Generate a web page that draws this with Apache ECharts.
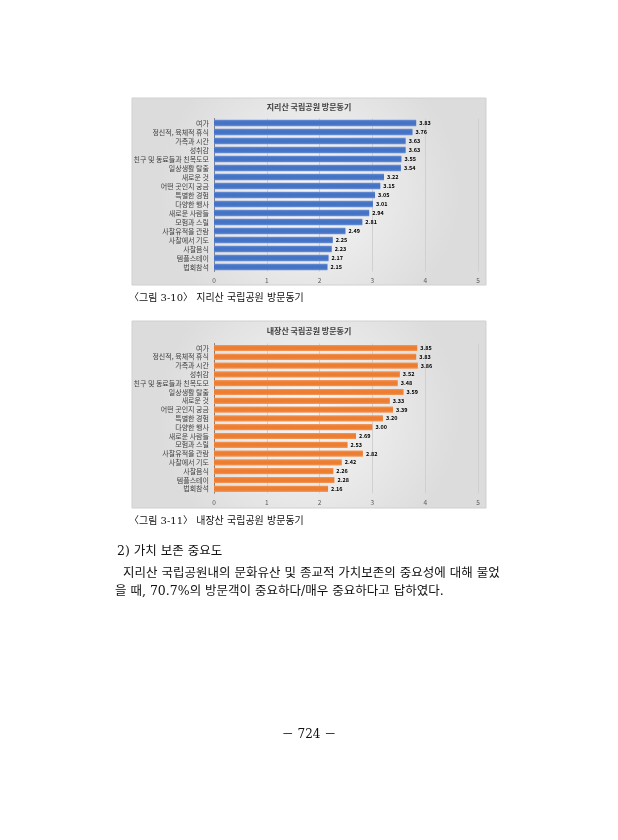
<!DOCTYPE html>
<html><head><meta charset="utf-8">
<script src="https://cdn.jsdelivr.net/npm/echarts@6/dist/echarts.min.js"></script>
<style>html,body{margin:0;padding:0;background:#fff;}#c{width:618px;height:840px;}</style>
</head><body><div id="c"></div>
<script>
const categories = ['여가','정신적, 육체적 휴식','가족과 시간','성취감','친구 및 동료들과 친목도모','일상생활 탈출','새로운 것','어떤 곳인지 궁금','특별한 경험','다양한 행사','새로운 사람들','모험과 스릴','사찰유적을 관람','사찰에서 기도','사찰음식','템플스테이','법회참석'];
const jirisanValues = [3.83,3.76,3.63,3.63,3.55,3.54,3.22,3.15,3.05,3.01,2.94,2.81,2.49,2.25,2.23,2.17,2.15];
const naejangsanValues = [3.85,3.83,3.86,3.52,3.48,3.59,3.33,3.39,3.20,3.00,2.69,2.53,2.82,2.42,2.26,2.28,2.16];
const titles = ['지리산 국립공원 방문동기','내장산 국립공원 방문동기'];
const captions = ['〈그림 3-10〉 지리산 국립공원 방문동기','〈그림 3-11〉 내장산 국립공원 방문동기'];
const heading = '2) 가치 보존 중요도';
const bodyLines = ['지리산 국립공원내의 문화유산 및 종교적 가치보존의 중요성에 대해 물었','을 때, 70.7%의 방문객이 중요하다/매우 중요하다고 답하였다.'];
const pageNo = '－ 724 －';

const chart = echarts.init(document.getElementById('c'));
const sans = '"Noto Sans CJK KR", "Noto Sans", sans-serif';
const serif = '"DejaVu Serif", "Liberation Serif", "Noto Sans CJK KR", serif';
const boxFill = new echarts.graphic.RadialGradient(0.5,0.5,0.8,[{offset:0,color:'#f7f7f7'},{offset:1,color:'#dcdcdc'}]);

function gridDef(top,height){return {left:214,right:140,top:top,height:height,containLabel:false};}
function xAxisDef(i){return {gridIndex:i,type:'value',min:0,max:5,interval:1,
  axisLine:{show:false},axisTick:{show:false},
  axisLabel:{fontSize:6.5,color:'#595959',fontFamily:sans,margin:6},
  splitLine:{lineStyle:{color:'#d0d0d0',width:1}}};}
function yAxisDef(i){return {gridIndex:i,type:'category',data:categories,inverse:true,
  axisLine:{lineStyle:{color:'#7f7f7f',width:1}},axisTick:{show:false},
  axisLabel:{interval:0,fontSize:7,color:'#404040',fontFamily:sans,margin:5}};}
function seriesDef(i,data,c1,c2){return {type:'bar',xAxisIndex:i,yAxisIndex:i,data:data,barCategoryGap:'30%',
  itemStyle:{color:new echarts.graphic.LinearGradient(0,0,0,1,[{offset:0,color:c2},{offset:0.3,color:c1},{offset:0.7,color:c1},{offset:1,color:c2}])},
  label:{show:true,position:'right',distance:3,fontSize:5.5,fontWeight:'bold',color:'#000',fontFamily:sans,
    formatter:p=>p.value.toFixed(2)}};}

chart.setOption({
  animation:false,
  grid:[gridDef(118.5,153),gridDef(343.6,149.6)],
  xAxis:[xAxisDef(0),xAxisDef(1)],
  yAxis:[yAxisDef(0),yAxisDef(1)],
  series:[seriesDef(0,jirisanValues,'#4472c4','#6a8fd6'),seriesDef(1,naejangsanValues,'#ed7d31','#f39a5c')],
  graphic:[
    {type:'rect',z:-10,shape:{x:132,y:98,width:354,height:187},style:{fill:boxFill,stroke:'#d0d0d0',lineWidth:1}},
    {type:'rect',z:-10,shape:{x:132,y:321,width:354,height:187},style:{fill:boxFill,stroke:'#d0d0d0',lineWidth:1}},
    {type:'text',z:5,style:{text:titles[0],x:309,y:107,textAlign:'center',textVerticalAlign:'middle',font:'bold 8px '+sans,fill:'#404040'}},
    {type:'text',z:5,style:{text:titles[1],x:309,y:331,textAlign:'center',textVerticalAlign:'middle',font:'bold 8px '+sans,fill:'#404040'}},
    {type:'text',style:{text:captions[0],x:129,y:298,textVerticalAlign:'middle',font:'10px '+serif,fill:'#111'}},
    {type:'text',style:{text:captions[1],x:129,y:521,textVerticalAlign:'middle',font:'10px '+serif,fill:'#111'}},
    {type:'text',style:{text:heading,x:117,y:552,textVerticalAlign:'middle',font:'12.5px '+serif,fill:'#111'}},
    {type:'text',style:{text:bodyLines[0],x:123,y:574,textVerticalAlign:'middle',font:'12.5px '+serif,fill:'#111'}},
    {type:'text',style:{text:bodyLines[1],x:115,y:592,textVerticalAlign:'middle',font:'12.5px '+serif,fill:'#111'}},
    {type:'text',style:{text:pageNo,x:309,y:735,textAlign:'center',textVerticalAlign:'middle',font:'12px '+serif,fill:'#111'}}
  ]
});
</script></body></html>
